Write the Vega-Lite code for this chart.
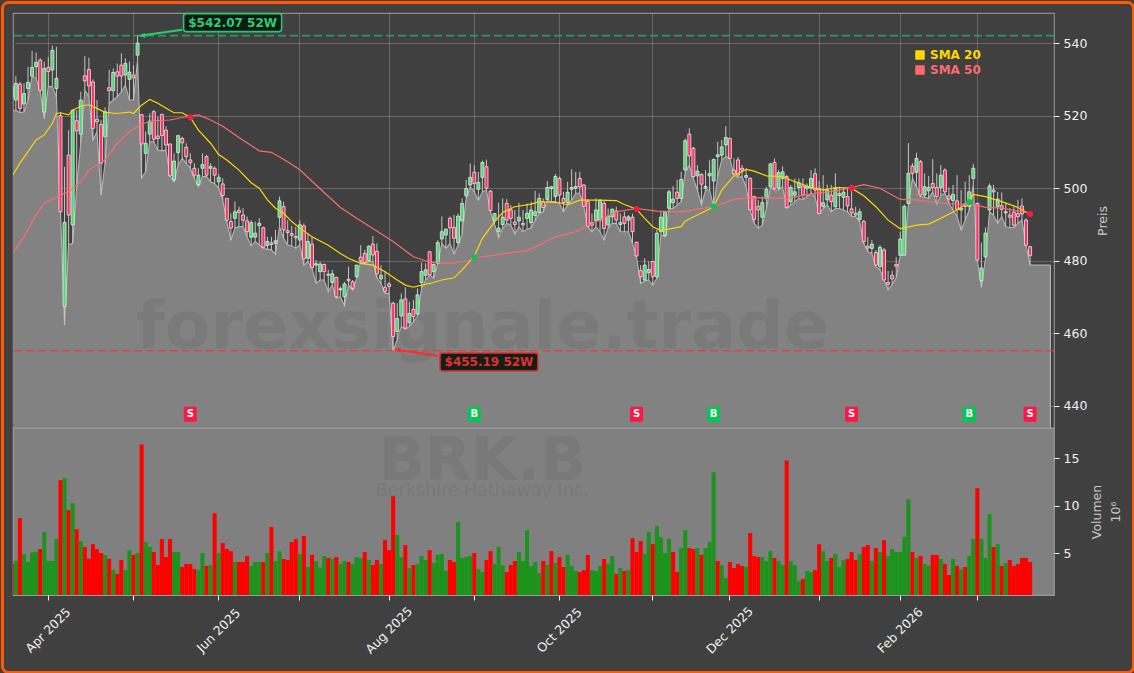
{"$schema":"https://vega.github.io/schema/vega-lite/v6.json","background":"#404040","padding":0,"spacing":0,"bounds":"flush","config":{"font":"DejaVu Sans","view":{"stroke":"#8c8c8c","strokeWidth":1.2},"concat":{"spacing":0}},
"datasets":{
"candles":[
{"date":"2025-03-19","open":528,"high":530,"low":521,"close":525,"volume":3.85,"volDir":"down"},
{"date":"2025-03-20","open":524.3,"high":530.9,"low":521.5,"close":528.9,"volume":4.16,"volDir":"up"},
{"date":"2025-03-21","open":528.7,"high":529.3,"low":520.8,"close":522,"volume":8.67,"volDir":"down"},
{"date":"2025-03-24","open":523.2,"high":528.9,"low":521,"close":526.1,"volume":4.9,"volDir":"up"},
{"date":"2025-03-25","open":527.5,"high":533.5,"low":524.3,"close":529.2,"volume":4.06,"volDir":"up"},
{"date":"2025-03-26","open":530.9,"high":537.9,"low":530.9,"close":533.3,"volume":5.07,"volDir":"up"},
{"date":"2025-03-27","open":533.5,"high":537.4,"low":530.3,"close":534.7,"volume":5.14,"volDir":"up"},
{"date":"2025-03-28","open":535.3,"high":535.8,"low":526.6,"close":527,"volume":5.42,"volDir":"down"},
{"date":"2025-03-31","open":521,"high":534.9,"low":519.2,"close":533,"volume":7.2,"volDir":"up"},
{"date":"2025-04-01","open":533.3,"high":536.2,"low":528,"close":532.2,"volume":4.16,"volDir":"up"},
{"date":"2025-04-02","open":532.6,"high":539.3,"low":528,"close":538,"volume":4.16,"volDir":"up"},
{"date":"2025-04-03","open":527.5,"high":539,"low":525.2,"close":530.3,"volume":6.47,"volDir":"up"},
{"date":"2025-04-04","open":520,"high":521,"low":493.5,"close":493.5,"volume":12.66,"volDir":"down"},
{"date":"2025-04-07","open":467.4,"high":505.9,"low":462.3,"close":490.6,"volume":12.87,"volDir":"up"},
{"date":"2025-04-08","open":509.1,"high":516,"low":484.4,"close":492.6,"volume":9.5,"volDir":"down"},
{"date":"2025-04-09","open":489.9,"high":521.7,"low":484.8,"close":521.5,"volume":10.24,"volDir":"up"},
{"date":"2025-04-10","open":518.6,"high":521.5,"low":500.4,"close":515.8,"volume":7.5,"volDir":"down"},
{"date":"2025-04-11","open":514.9,"high":526.6,"low":512.4,"close":524.3,"volume":6.26,"volDir":"up"},
{"date":"2025-04-14","open":531,"high":536.4,"low":527,"close":529.6,"volume":5.63,"volDir":"down"},
{"date":"2025-04-15","open":532.7,"high":536,"low":525.2,"close":528.2,"volume":4.4,"volDir":"down"},
{"date":"2025-04-16","open":529.3,"high":530,"low":513.3,"close":516.5,"volume":5.94,"volDir":"down"},
{"date":"2025-04-17","open":519,"high":524.3,"low":515.6,"close":518.3,"volume":5.42,"volDir":"down"},
{"date":"2025-04-21","open":517.6,"high":518.8,"low":498.1,"close":506.9,"volume":5,"volDir":"down"},
{"date":"2025-04-22","open":514.2,"high":522.3,"low":506.9,"close":521.1,"volume":4.8,"volDir":"up"},
{"date":"2025-04-23","open":527.7,"high":532.6,"low":523.4,"close":526.9,"volume":4.4,"volDir":"down"},
{"date":"2025-04-24","open":526.9,"high":533,"low":524.3,"close":531.9,"volume":3.2,"volDir":"up"},
{"date":"2025-04-25","open":532.1,"high":534.4,"low":525.2,"close":530.9,"volume":2.8,"volDir":"down"},
{"date":"2025-04-28","open":533.9,"high":537.2,"low":526.6,"close":530.9,"volume":4.27,"volDir":"down"},
{"date":"2025-04-29","open":531.2,"high":535.8,"low":528.4,"close":534.4,"volume":3.2,"volDir":"up"},
{"date":"2025-04-30","open":530,"high":534.9,"low":524.3,"close":532,"volume":5.3,"volDir":"up"},
{"date":"2025-05-01","open":531.2,"high":533.9,"low":524.3,"close":530.4,"volume":4.8,"volDir":"down"},
{"date":"2025-05-02","open":536.7,"high":542.07,"low":535.3,"close":540,"volume":5,"volDir":"up"},
{"date":"2025-05-05","open":520.3,"high":520.4,"low":502.9,"close":512.2,"volume":16.43,"volDir":"down"},
{"date":"2025-05-06","open":509.6,"high":515.6,"low":504.6,"close":512.4,"volume":6.15,"volDir":"up"},
{"date":"2025-05-07","open":514.9,"high":520.6,"low":512.8,"close":518.5,"volume":5.63,"volDir":"up"},
{"date":"2025-05-08","open":521.1,"high":521.5,"low":512.8,"close":513.5,"volume":5.1,"volDir":"down"},
{"date":"2025-05-09","open":514.4,"high":519.7,"low":510.5,"close":513.7,"volume":3.74,"volDir":"down"},
{"date":"2025-05-12","open":520.3,"high":520.6,"low":510.3,"close":514.5,"volume":6.47,"volDir":"down"},
{"date":"2025-05-13","open":516,"high":517.1,"low":510.5,"close":511.9,"volume":4.58,"volDir":"down"},
{"date":"2025-05-14","open":512.2,"high":512.3,"low":503.2,"close":503.4,"volume":6.47,"volDir":"down"},
{"date":"2025-05-15","open":502.3,"high":509.6,"low":501.8,"close":507.5,"volume":5.1,"volDir":"up"},
{"date":"2025-05-16","open":509.8,"high":514.7,"low":506.4,"close":514.5,"volume":5.1,"volDir":"up"},
{"date":"2025-05-19","open":513.7,"high":514.2,"low":508.2,"close":512.5,"volume":3.53,"volDir":"down"},
{"date":"2025-05-20","open":511.3,"high":512.4,"low":506.9,"close":508.7,"volume":3.85,"volDir":"down"},
{"date":"2025-05-21","open":507.8,"high":509.6,"low":505.5,"close":507,"volume":3.85,"volDir":"down"},
{"date":"2025-05-22","open":505.5,"high":506.9,"low":502.7,"close":503.6,"volume":3.32,"volDir":"down"},
{"date":"2025-05-23","open":501,"high":505.5,"low":500.4,"close":503.6,"volume":3.2,"volDir":"up"},
{"date":"2025-05-27","open":505.5,"high":509.6,"low":503.2,"close":506.5,"volume":5,"volDir":"up"},
{"date":"2025-05-28","open":508.7,"high":509.2,"low":503.2,"close":503.6,"volume":3.64,"volDir":"down"},
{"date":"2025-05-29","open":505.5,"high":506.9,"low":501.8,"close":506,"volume":3.74,"volDir":"up"},
{"date":"2025-05-30","open":505.5,"high":506,"low":501.3,"close":503.6,"volume":9.2,"volDir":"down"},
{"date":"2025-06-02","open":501.8,"high":503.9,"low":500,"close":503,"volume":5,"volDir":"up"},
{"date":"2025-06-03","open":501.2,"high":502.7,"low":496.8,"close":498,"volume":6.05,"volDir":"down"},
{"date":"2025-06-04","open":497.2,"high":497.2,"low":490.8,"close":491.2,"volume":5.42,"volDir":"down"},
{"date":"2025-06-05","open":490.8,"high":493.1,"low":485.7,"close":489,"volume":5.2,"volDir":"down"},
{"date":"2025-06-06","open":491.7,"high":496.3,"low":489,"close":493.5,"volume":4.06,"volDir":"up"},
{"date":"2025-06-09","open":493.9,"high":494.9,"low":489.4,"close":493.3,"volume":4.06,"volDir":"down"},
{"date":"2025-06-10","open":492.6,"high":494.5,"low":489.4,"close":491.2,"volume":4.06,"volDir":"down"},
{"date":"2025-06-11","open":491,"high":492.2,"low":486.6,"close":488,"volume":4.69,"volDir":"down"},
{"date":"2025-06-12","open":486.5,"high":491.2,"low":484.1,"close":490.5,"volume":3.64,"volDir":"up"},
{"date":"2025-06-13","open":486.5,"high":490.8,"low":485.3,"close":487.6,"volume":4.06,"volDir":"up"},
{"date":"2025-06-16","open":489.7,"high":491.7,"low":484.4,"close":490.3,"volume":4.06,"volDir":"up"},
{"date":"2025-06-17","open":489.1,"high":489.4,"low":483.4,"close":483.7,"volume":4.06,"volDir":"down"},
{"date":"2025-06-18","open":484.2,"high":486.6,"low":483.2,"close":485.3,"volume":5,"volDir":"up"},
{"date":"2025-06-20","open":484.9,"high":486.6,"low":483,"close":484.5,"volume":7.73,"volDir":"down"},
{"date":"2025-06-23","open":484.8,"high":488.5,"low":481.8,"close":485.5,"volume":4.16,"volDir":"up"},
{"date":"2025-06-24","open":492,"high":497.7,"low":489.4,"close":496.5,"volume":5.2,"volDir":"up"},
{"date":"2025-06-25","open":494.9,"high":496.3,"low":486.2,"close":488.5,"volume":4.37,"volDir":"down"},
{"date":"2025-06-26","open":488.3,"high":491.2,"low":484.4,"close":487.8,"volume":4.27,"volDir":"down"},
{"date":"2025-06-27","open":487.5,"high":489.6,"low":484.1,"close":487,"volume":6.15,"volDir":"down"},
{"date":"2025-06-30","open":486.7,"high":489.4,"low":483.4,"close":486.3,"volume":6.47,"volDir":"down"},
{"date":"2025-07-01","open":485.7,"high":491.2,"low":484.4,"close":489.9,"volume":4.9,"volDir":"up"},
{"date":"2025-07-02","open":489.6,"high":490.3,"low":478.8,"close":480.5,"volume":6.8,"volDir":"down"},
{"date":"2025-07-03","open":480.7,"high":487.6,"low":479.8,"close":485.3,"volume":3.53,"volDir":"up"},
{"date":"2025-07-07","open":484.6,"high":486.6,"low":477.9,"close":478.1,"volume":4.8,"volDir":"down"},
{"date":"2025-07-08","open":478.8,"high":480.2,"low":473.8,"close":479.2,"volume":4.16,"volDir":"up"},
{"date":"2025-07-09","open":477,"high":479.7,"low":474.7,"close":479.1,"volume":3.46,"volDir":"up"},
{"date":"2025-07-10","open":479,"high":479.2,"low":474.7,"close":477,"volume":4.69,"volDir":"up"},
{"date":"2025-07-11","open":476.3,"high":477.5,"low":471.5,"close":476,"volume":4.48,"volDir":"down"},
{"date":"2025-07-14","open":474,"high":477.5,"low":473.3,"close":476.4,"volume":4.37,"volDir":"up"},
{"date":"2025-07-15","open":475.4,"high":475.6,"low":469.7,"close":470.1,"volume":4.58,"volDir":"down"},
{"date":"2025-07-16","open":472,"high":472.9,"low":470.1,"close":472.3,"volume":3.85,"volDir":"up"},
{"date":"2025-07-17","open":470.1,"high":474.2,"low":467.6,"close":473.6,"volume":4.16,"volDir":"up"},
{"date":"2025-07-18","open":474.9,"high":478.4,"low":473.3,"close":474.5,"volume":4.06,"volDir":"down"},
{"date":"2025-07-21","open":474.2,"high":474.7,"low":471.9,"close":472.4,"volume":3.85,"volDir":"up"},
{"date":"2025-07-22","open":475.6,"high":478.8,"low":475.2,"close":478.8,"volume":4.58,"volDir":"up"},
{"date":"2025-07-23","open":481,"high":484.3,"low":479.8,"close":480,"volume":4.48,"volDir":"up"},
{"date":"2025-07-24","open":482,"high":483,"low":479.3,"close":479.5,"volume":5.1,"volDir":"down"},
{"date":"2025-07-25","open":480,"high":484.3,"low":479.8,"close":484,"volume":4.27,"volDir":"up"},
{"date":"2025-07-28","open":484.6,"high":486.8,"low":479.8,"close":481.6,"volume":3.74,"volDir":"down"},
{"date":"2025-07-29","open":482.6,"high":484.8,"low":475.2,"close":476.4,"volume":4.27,"volDir":"down"},
{"date":"2025-07-30","open":475,"high":478.8,"low":473.8,"close":476,"volume":3.85,"volDir":"up"},
{"date":"2025-07-31","open":472.6,"high":477,"low":471,"close":471.6,"volume":6.36,"volDir":"down"},
{"date":"2025-08-01","open":473.6,"high":474.2,"low":471,"close":472.9,"volume":5.3,"volDir":"down"},
{"date":"2025-08-04","open":468.3,"high":468.7,"low":455.19,"close":459.1,"volume":10.98,"volDir":"down"},
{"date":"2025-08-05","open":460.5,"high":468.3,"low":458.2,"close":464.1,"volume":6.9,"volDir":"up"},
{"date":"2025-08-06","open":464.8,"high":471,"low":461.9,"close":469.2,"volume":4.58,"volDir":"up"},
{"date":"2025-08-07","open":469.5,"high":472.7,"low":461.1,"close":461.4,"volume":5.84,"volDir":"down"},
{"date":"2025-08-08","open":462.9,"high":468.7,"low":461.9,"close":465.5,"volume":3.43,"volDir":"up"},
{"date":"2025-08-11","open":466.6,"high":469.2,"low":463.2,"close":464.6,"volume":3.74,"volDir":"down"},
{"date":"2025-08-12","open":465.3,"high":472.4,"low":464.8,"close":470.6,"volume":3.85,"volDir":"up"},
{"date":"2025-08-13","open":474,"high":479.5,"low":472.4,"close":477,"volume":4.69,"volDir":"up"},
{"date":"2025-08-14","open":476,"high":479.3,"low":474.7,"close":477.5,"volume":4.27,"volDir":"up"},
{"date":"2025-08-15","open":482.5,"high":482.5,"low":476.1,"close":476.1,"volume":5.3,"volDir":"down"},
{"date":"2025-08-18","open":477,"high":479.3,"low":475.2,"close":479,"volume":3.95,"volDir":"up"},
{"date":"2025-08-19","open":479.3,"high":485.7,"low":479.3,"close":485,"volume":4.8,"volDir":"up"},
{"date":"2025-08-20","open":486,"high":492.2,"low":484.8,"close":488,"volume":4.9,"volDir":"up"},
{"date":"2025-08-21","open":487.1,"high":488.9,"low":483.4,"close":488.7,"volume":3.1,"volDir":"up"},
{"date":"2025-08-22","open":491.7,"high":492.2,"low":484.8,"close":489.1,"volume":4.27,"volDir":"down"},
{"date":"2025-08-25","open":489.2,"high":492.6,"low":481.9,"close":486.2,"volume":4.06,"volDir":"down"},
{"date":"2025-08-26","open":485,"high":493,"low":484.3,"close":492.3,"volume":8.25,"volDir":"up"},
{"date":"2025-08-27","open":491,"high":497.2,"low":487.4,"close":495.8,"volume":4.48,"volDir":"up"},
{"date":"2025-08-28","open":497.9,"high":502.3,"low":497.2,"close":499.9,"volume":4.58,"volDir":"up"},
{"date":"2025-08-29","open":500.9,"high":506.8,"low":500.4,"close":503,"volume":4.69,"volDir":"up"},
{"date":"2025-09-02","open":504.4,"high":506.4,"low":499,"close":501.3,"volume":5,"volDir":"down"},
{"date":"2025-09-03","open":499.7,"high":504.5,"low":496.7,"close":501.6,"volume":3.32,"volDir":"up"},
{"date":"2025-09-04","open":503,"high":507.6,"low":499,"close":507.1,"volume":3,"volDir":"up"},
{"date":"2025-09-05","open":505.9,"high":507.9,"low":499.5,"close":500,"volume":4.27,"volDir":"down"},
{"date":"2025-09-08","open":499.2,"high":499.5,"low":493.5,"close":493.8,"volume":5.2,"volDir":"down"},
{"date":"2025-09-09","open":491,"high":493,"low":490,"close":493,"volume":3.85,"volDir":"up"},
{"date":"2025-09-10","open":488,"high":496,"low":486.4,"close":489,"volume":5.63,"volDir":"up"},
{"date":"2025-09-11","open":490,"high":497.2,"low":488.9,"close":492,"volume":3.74,"volDir":"up"},
{"date":"2025-09-12","open":495.8,"high":497,"low":490.3,"close":491.2,"volume":3,"volDir":"down"},
{"date":"2025-09-15","open":494,"high":495.4,"low":489.9,"close":491.7,"volume":3.74,"volDir":"down"},
{"date":"2025-09-16","open":490.7,"high":494,"low":487.4,"close":490,"volume":4.16,"volDir":"down"},
{"date":"2025-09-17","open":491,"high":496,"low":489.4,"close":492,"volume":5.1,"volDir":"up"},
{"date":"2025-09-18","open":490.3,"high":494,"low":488,"close":489.9,"volume":4.16,"volDir":"up"},
{"date":"2025-09-19","open":491.7,"high":495.8,"low":488.7,"close":493.1,"volume":7.4,"volDir":"up"},
{"date":"2025-09-22","open":490.5,"high":496.3,"low":489,"close":494,"volume":3.64,"volDir":"up"},
{"date":"2025-09-23","open":492.5,"high":499.3,"low":491.2,"close":493.5,"volume":4.06,"volDir":"up"},
{"date":"2025-09-24","open":493.3,"high":498.6,"low":493.1,"close":497.2,"volume":2.9,"volDir":"up"},
{"date":"2025-09-25","open":496.3,"high":497.2,"low":493.5,"close":494.7,"volume":4.16,"volDir":"down"},
{"date":"2025-09-26","open":496.9,"high":502,"low":496.6,"close":500.2,"volume":3.74,"volDir":"up"},
{"date":"2025-09-29","open":499.9,"high":500.5,"low":496.3,"close":500.4,"volume":5.2,"volDir":"down"},
{"date":"2025-09-30","open":497.7,"high":503.9,"low":496.3,"close":503.2,"volume":3.95,"volDir":"up"},
{"date":"2025-10-01","open":502.7,"high":503.2,"low":495.8,"close":498.1,"volume":4.58,"volDir":"down"},
{"date":"2025-10-02","open":497.2,"high":499,"low":493.5,"close":496,"volume":3.53,"volDir":"down"},
{"date":"2025-10-03","open":496,"high":501.8,"low":495.4,"close":498.9,"volume":4.8,"volDir":"up"},
{"date":"2025-10-06","open":499.7,"high":505.2,"low":496.7,"close":500.2,"volume":3.64,"volDir":"up"},
{"date":"2025-10-07","open":500,"high":504.5,"low":498.6,"close":500.5,"volume":3.1,"volDir":"up"},
{"date":"2025-10-08","open":502.7,"high":504.5,"low":498.6,"close":500.4,"volume":3,"volDir":"down"},
{"date":"2025-10-09","open":500.9,"high":501,"low":494.9,"close":495,"volume":3.2,"volDir":"down"},
{"date":"2025-10-10","open":496.3,"high":497,"low":489.4,"close":489.4,"volume":4.8,"volDir":"down"},
{"date":"2025-10-13","open":490.5,"high":493,"low":488,"close":489.8,"volume":3.2,"volDir":"up"},
{"date":"2025-10-14","open":491,"high":497.2,"low":489.4,"close":494,"volume":3.1,"volDir":"up"},
{"date":"2025-10-15","open":491.2,"high":497,"low":488,"close":496.7,"volume":3.64,"volDir":"up"},
{"date":"2025-10-16","open":495.8,"high":496.7,"low":485.7,"close":488.9,"volume":4.37,"volDir":"down"},
{"date":"2025-10-17","open":489.9,"high":494.4,"low":489,"close":492.3,"volume":3.85,"volDir":"up"},
{"date":"2025-10-20","open":492.1,"high":494.4,"low":490.3,"close":494.2,"volume":4.69,"volDir":"up"},
{"date":"2025-10-21","open":493.7,"high":494.9,"low":490.3,"close":491.2,"volume":2.8,"volDir":"down"},
{"date":"2025-10-22","open":490,"high":493,"low":488,"close":490.5,"volume":3.43,"volDir":"up"},
{"date":"2025-10-23","open":492.1,"high":493.5,"low":488,"close":490.3,"volume":3.1,"volDir":"down"},
{"date":"2025-10-24","open":491.2,"high":492.6,"low":488,"close":492.1,"volume":3.2,"volDir":"up"},
{"date":"2025-10-27","open":492,"high":493,"low":484.8,"close":488,"volume":6.57,"volDir":"down"},
{"date":"2025-10-28","open":485.1,"high":485.2,"low":481.1,"close":481.3,"volume":5.1,"volDir":"down"},
{"date":"2025-10-29","open":477.3,"high":478.8,"low":473.8,"close":475.6,"volume":6.26,"volDir":"down"},
{"date":"2025-10-30","open":474.7,"high":480.7,"low":474.5,"close":478.8,"volume":4.9,"volDir":"up"},
{"date":"2025-10-31","open":476.7,"high":479.8,"low":474.7,"close":477.6,"volume":7.2,"volDir":"up"},
{"date":"2025-11-03","open":479.8,"high":480,"low":473.3,"close":475.6,"volume":5.94,"volDir":"down"},
{"date":"2025-11-04","open":475.6,"high":488.5,"low":475.2,"close":487.6,"volume":7.83,"volDir":"up"},
{"date":"2025-11-05","open":488,"high":493.5,"low":487.1,"close":492,"volume":6.68,"volDir":"up"},
{"date":"2025-11-06","open":487,"high":493.5,"low":486.6,"close":493.5,"volume":5,"volDir":"up"},
{"date":"2025-11-07","open":494.5,"high":499.5,"low":494.4,"close":499,"volume":6.47,"volDir":"up"},
{"date":"2025-11-10","open":496,"high":500.6,"low":494.4,"close":497,"volume":5.1,"volDir":"down"},
{"date":"2025-11-11","open":498.9,"high":502.3,"low":495.4,"close":497.2,"volume":3,"volDir":"down"},
{"date":"2025-11-12","open":497.2,"high":504.5,"low":496.3,"close":502.4,"volume":5.52,"volDir":"up"},
{"date":"2025-11-13","open":505,"high":513.7,"low":504.5,"close":513.1,"volume":7.4,"volDir":"up"},
{"date":"2025-11-14","open":514.9,"high":516.5,"low":506.4,"close":508.9,"volume":5.52,"volDir":"down"},
{"date":"2025-11-17","open":511,"high":511.4,"low":502.7,"close":503.2,"volume":5.42,"volDir":"down"},
{"date":"2025-11-18","open":503.4,"high":506.4,"low":499.5,"close":504.7,"volume":5.52,"volDir":"up"},
{"date":"2025-11-19","open":503.8,"high":504.1,"low":495.4,"close":501.1,"volume":4.8,"volDir":"down"},
{"date":"2025-11-20","open":500,"high":505,"low":499.5,"close":500.5,"volume":5.52,"volDir":"up"},
{"date":"2025-11-21","open":503.4,"high":507.7,"low":499.5,"close":504.1,"volume":6.15,"volDir":"up"},
{"date":"2025-11-24","open":502,"high":508.2,"low":494.9,"close":507.9,"volume":13.5,"volDir":"up"},
{"date":"2025-11-25","open":508.7,"high":512.8,"low":503.2,"close":509.2,"volume":4.16,"volDir":"down"},
{"date":"2025-11-26","open":509.1,"high":513.3,"low":507.8,"close":511.4,"volume":3.74,"volDir":"up"},
{"date":"2025-11-28","open":511.9,"high":517.1,"low":508.7,"close":514,"volume":2.37,"volDir":"up"},
{"date":"2025-12-01","open":513.7,"high":514,"low":508.2,"close":508.2,"volume":4.06,"volDir":"down"},
{"date":"2025-12-02","open":505,"high":508.2,"low":503.6,"close":504,"volume":3.43,"volDir":"down"},
{"date":"2025-12-03","open":507.8,"high":508.6,"low":503,"close":503.6,"volume":3.85,"volDir":"down"},
{"date":"2025-12-04","open":505.5,"high":506.4,"low":503.2,"close":505,"volume":3.64,"volDir":"down"},
{"date":"2025-12-05","open":503,"high":505.5,"low":500.4,"close":503.5,"volume":3.53,"volDir":"up"},
{"date":"2025-12-08","open":502.7,"high":503,"low":494,"close":494,"volume":7.1,"volDir":"down"},
{"date":"2025-12-09","open":497.7,"high":497.9,"low":490.3,"close":491.4,"volume":4.69,"volDir":"down"},
{"date":"2025-12-10","open":495,"high":496.7,"low":489,"close":494,"volume":4.58,"volDir":"down"},
{"date":"2025-12-11","open":492,"high":497.7,"low":489.8,"close":496,"volume":4.58,"volDir":"up"},
{"date":"2025-12-12","open":497.2,"high":500.4,"low":494.4,"close":499.7,"volume":4.16,"volDir":"up"},
{"date":"2025-12-15","open":500.4,"high":507,"low":500.2,"close":506.7,"volume":5.2,"volDir":"up"},
{"date":"2025-12-16","open":507.1,"high":508.2,"low":499.5,"close":500,"volume":4.48,"volDir":"down"},
{"date":"2025-12-17","open":500,"high":505,"low":499.5,"close":504.3,"volume":4.16,"volDir":"up"},
{"date":"2025-12-18","open":502.7,"high":506,"low":500.4,"close":504.5,"volume":3.74,"volDir":"up"},
{"date":"2025-12-19","open":503.2,"high":503.6,"low":494.4,"close":494.7,"volume":14.75,"volDir":"down"},
{"date":"2025-12-22","open":496.3,"high":500.9,"low":495.4,"close":500.2,"volume":4.16,"volDir":"up"},
{"date":"2025-12-23","open":498.1,"high":502.7,"low":496.3,"close":499,"volume":3.74,"volDir":"up"},
{"date":"2025-12-24","open":500.2,"high":502.7,"low":497.2,"close":501.5,"volume":2.06,"volDir":"up"},
{"date":"2025-12-26","open":500.6,"high":502.7,"low":496.9,"close":498.1,"volume":2.27,"volDir":"down"},
{"date":"2025-12-29","open":500,"high":501.3,"low":497.7,"close":500.5,"volume":3.1,"volDir":"up"},
{"date":"2025-12-30","open":500,"high":505,"low":498.6,"close":502.7,"volume":3,"volDir":"up"},
{"date":"2025-12-31","open":504,"high":505.5,"low":497.5,"close":499.5,"volume":3.2,"volDir":"down"},
{"date":"2026-01-02","open":500,"high":502,"low":493,"close":493,"volume":5.94,"volDir":"down"},
{"date":"2026-01-05","open":495,"high":503.6,"low":494.4,"close":496,"volume":5.2,"volDir":"up"},
{"date":"2026-01-06","open":496.8,"high":501,"low":495.4,"close":499.5,"volume":4.16,"volDir":"up"},
{"date":"2026-01-07","open":498.1,"high":500.9,"low":493.5,"close":496.3,"volume":4.48,"volDir":"down"},
{"date":"2026-01-08","open":494.9,"high":504.1,"low":494.4,"close":499.9,"volume":4.9,"volDir":"up"},
{"date":"2026-01-09","open":498,"high":500.4,"low":494.4,"close":498.5,"volume":3.53,"volDir":"up"},
{"date":"2026-01-12","open":497.5,"high":500.2,"low":494,"close":498.9,"volume":4.27,"volDir":"up"},
{"date":"2026-01-13","open":497.7,"high":500,"low":493.5,"close":495.1,"volume":4.37,"volDir":"down"},
{"date":"2026-01-14","open":494.3,"high":500.9,"low":492.2,"close":493.2,"volume":5.1,"volDir":"down"},
{"date":"2026-01-15","open":493.1,"high":494.9,"low":492.2,"close":492.6,"volume":4.27,"volDir":"down"},
{"date":"2026-01-16","open":491.4,"high":494.4,"low":490.8,"close":493.5,"volume":4.9,"volDir":"up"},
{"date":"2026-01-20","open":490.9,"high":491.2,"low":484.8,"close":485.3,"volume":5.63,"volDir":"down"},
{"date":"2026-01-21","open":484,"high":486.6,"low":482.5,"close":483.5,"volume":5.84,"volDir":"down"},
{"date":"2026-01-22","open":483.4,"high":485.7,"low":482,"close":484.6,"volume":4.16,"volDir":"up"},
{"date":"2026-01-23","open":482.3,"high":483,"low":478.4,"close":478.8,"volume":5.52,"volDir":"down"},
{"date":"2026-01-26","open":478.4,"high":484.3,"low":477.5,"close":483.7,"volume":5.1,"volDir":"up"},
{"date":"2026-01-27","open":483,"high":483.5,"low":474.7,"close":474.7,"volume":6.36,"volDir":"down"},
{"date":"2026-01-28","open":474,"high":477.2,"low":472,"close":473.5,"volume":4.69,"volDir":"up"},
{"date":"2026-01-29","open":476,"high":477.3,"low":473.4,"close":475,"volume":5.42,"volDir":"up"},
{"date":"2026-01-30","open":479,"high":481,"low":475.4,"close":478.5,"volume":5.1,"volDir":"up"},
{"date":"2026-02-02","open":481.5,"high":488,"low":481.3,"close":486,"volume":5.1,"volDir":"up"},
{"date":"2026-02-03","open":481.6,"high":495.5,"low":481.6,"close":495,"volume":6.68,"volDir":"up"},
{"date":"2026-02-04","open":495.8,"high":512.4,"low":495.6,"close":504.1,"volume":10.66,"volDir":"up"},
{"date":"2026-02-05","open":506.1,"high":506.9,"low":502.7,"close":504.1,"volume":5.1,"volDir":"down"},
{"date":"2026-02-06","open":504.4,"high":509.8,"low":500.4,"close":508.2,"volume":4.48,"volDir":"up"},
{"date":"2026-02-09","open":507.3,"high":507.8,"low":497.7,"close":498.1,"volume":4.69,"volDir":"down"},
{"date":"2026-02-10","open":498.1,"high":504.1,"low":497.5,"close":500.4,"volume":3.85,"volDir":"up"},
{"date":"2026-02-11","open":499.3,"high":503.4,"low":497.2,"close":500.2,"volume":3.64,"volDir":"up"},
{"date":"2026-02-12","open":501.3,"high":508,"low":499,"close":500.2,"volume":4.8,"volDir":"down"},
{"date":"2026-02-13","open":500.2,"high":504.1,"low":495.6,"close":497.7,"volume":4.8,"volDir":"down"},
{"date":"2026-02-17","open":500.2,"high":506.4,"low":498.1,"close":503.6,"volume":4.37,"volDir":"up"},
{"date":"2026-02-18","open":505,"high":505.5,"low":498.6,"close":499,"volume":3.85,"volDir":"down"},
{"date":"2026-02-19","open":497.9,"high":500.2,"low":495.8,"close":497,"volume":2.69,"volDir":"down"},
{"date":"2026-02-20","open":496.6,"high":500.9,"low":494,"close":498.3,"volume":4.37,"volDir":"up"},
{"date":"2026-02-23","open":496.5,"high":503.6,"low":492.2,"close":494.2,"volume":3.64,"volDir":"down"},
{"date":"2026-02-24","open":494,"high":499.5,"low":488.5,"close":494.5,"volume":3.32,"volDir":"up"},
{"date":"2026-02-25","open":495.5,"high":501.8,"low":491.2,"close":495,"volume":3.53,"volDir":"down"},
{"date":"2026-02-26","open":495,"high":503.6,"low":494,"close":499,"volume":4.69,"volDir":"up"},
{"date":"2026-02-27","open":502.7,"high":506.7,"low":500.9,"close":505.5,"volume":6.47,"volDir":"up"},
{"date":"2026-03-02","open":495.8,"high":496,"low":480.2,"close":480.2,"volume":11.82,"volDir":"down"},
{"date":"2026-03-03","open":474.5,"high":485,"low":472.7,"close":478,"volume":6.47,"volDir":"up"},
{"date":"2026-03-04","open":481.1,"high":489.2,"low":480.7,"close":487.6,"volume":4.48,"volDir":"up"},
{"date":"2026-03-05","open":494,"high":501.3,"low":493.5,"close":500.6,"volume":9.09,"volDir":"up"},
{"date":"2026-03-06","open":499.5,"high":500.9,"low":492.6,"close":499,"volume":5.63,"volDir":"down"},
{"date":"2026-03-09","open":495,"high":499,"low":490.3,"close":497,"volume":5.94,"volDir":"up"},
{"date":"2026-03-10","open":495.2,"high":498.8,"low":492.2,"close":494.2,"volume":3.64,"volDir":"down"},
{"date":"2026-03-11","open":493.2,"high":495.8,"low":489.4,"close":493.5,"volume":3.95,"volDir":"up"},
{"date":"2026-03-12","open":492.6,"high":494.5,"low":489.1,"close":492,"volume":4.27,"volDir":"down"},
{"date":"2026-03-13","open":493.4,"high":494.9,"low":489.2,"close":489.8,"volume":3.64,"volDir":"down"},
{"date":"2026-03-16","open":493,"high":496.8,"low":490.3,"close":492.2,"volume":3.85,"volDir":"down"},
{"date":"2026-03-17","open":495.1,"high":497.2,"low":491.2,"close":492.9,"volume":4.48,"volDir":"down"},
{"date":"2026-03-18","open":491.2,"high":491.7,"low":484.1,"close":484.3,"volume":4.48,"volDir":"down"},
{"date":"2026-03-19","open":483.9,"high":484.1,"low":478.85,"close":481.4,"volume":4.06,"volDir":"down"},
{"date":"2026-03-20","low":478.85},{"date":"2026-03-23","low":478.85},{"date":"2026-03-24","low":478.85},{"date":"2026-03-25","low":478.85},{"date":"2026-03-26","low":478.85}
],
"sma":[
{"date":"2025-03-19","series":"SMA 20","value":503.2},{"date":"2025-03-21","series":"SMA 20","value":506.9},{"date":"2025-03-25","series":"SMA 20","value":510.1},{"date":"2025-03-27","series":"SMA 20","value":513.3},{"date":"2025-03-31","series":"SMA 20","value":514.7},{"date":"2025-04-02","series":"SMA 20","value":517.9},{"date":"2025-04-03","series":"SMA 20","value":520.6},{"date":"2025-04-04","series":"SMA 20","value":520.8},{"date":"2025-04-08","series":"SMA 20","value":520.2},{"date":"2025-04-09","series":"SMA 20","value":521.5},{"date":"2025-04-11","series":"SMA 20","value":522.6},{"date":"2025-04-15","series":"SMA 20","value":523},{"date":"2025-04-17","series":"SMA 20","value":522},{"date":"2025-04-22","series":"SMA 20","value":520.9},{"date":"2025-04-25","series":"SMA 20","value":520.6},{"date":"2025-04-30","series":"SMA 20","value":521},{"date":"2025-05-01","series":"SMA 20","value":520.6},{"date":"2025-05-05","series":"SMA 20","value":522.9},{"date":"2025-05-07","series":"SMA 20","value":524.5},{"date":"2025-05-09","series":"SMA 20","value":523.4},{"date":"2025-05-14","series":"SMA 20","value":521.4},{"date":"2025-05-15","series":"SMA 20","value":520.8},{"date":"2025-05-19","series":"SMA 20","value":520.8},{"date":"2025-05-21","series":"SMA 20","value":519.5},{"date":"2025-05-23","series":"SMA 20","value":516},{"date":"2025-05-29","series":"SMA 20","value":512.4},{"date":"2025-06-02","series":"SMA 20","value":509.3},{"date":"2025-06-04","series":"SMA 20","value":507.8},{"date":"2025-06-09","series":"SMA 20","value":505},{"date":"2025-06-12","series":"SMA 20","value":501.5},{"date":"2025-06-16","series":"SMA 20","value":500},{"date":"2025-06-18","series":"SMA 20","value":496.8},{"date":"2025-06-23","series":"SMA 20","value":494.5},{"date":"2025-06-25","series":"SMA 20","value":493.1},{"date":"2025-06-27","series":"SMA 20","value":490.8},{"date":"2025-07-01","series":"SMA 20","value":489},{"date":"2025-07-07","series":"SMA 20","value":486.6},{"date":"2025-07-11","series":"SMA 20","value":484.3},{"date":"2025-07-16","series":"SMA 20","value":482},{"date":"2025-07-18","series":"SMA 20","value":480.7},{"date":"2025-07-23","series":"SMA 20","value":479.3},{"date":"2025-07-28","series":"SMA 20","value":478.8},{"date":"2025-07-31","series":"SMA 20","value":477},{"date":"2025-08-05","series":"SMA 20","value":474.7},{"date":"2025-08-07","series":"SMA 20","value":473.3},{"date":"2025-08-11","series":"SMA 20","value":472.7},{"date":"2025-08-13","series":"SMA 20","value":473.3},{"date":"2025-08-18","series":"SMA 20","value":474},{"date":"2025-08-20","series":"SMA 20","value":474.7},{"date":"2025-08-25","series":"SMA 20","value":475.3},{"date":"2025-08-27","series":"SMA 20","value":477.5},{"date":"2025-09-02","series":"SMA 20","value":481.3},{"date":"2025-09-04","series":"SMA 20","value":486.2},{"date":"2025-09-09","series":"SMA 20","value":490.8},{"date":"2025-09-11","series":"SMA 20","value":493.3},{"date":"2025-09-16","series":"SMA 20","value":494.9},{"date":"2025-09-22","series":"SMA 20","value":495.6},{"date":"2025-09-24","series":"SMA 20","value":496.3},{"date":"2025-10-01","series":"SMA 20","value":496},{"date":"2025-10-03","series":"SMA 20","value":495.4},{"date":"2025-10-08","series":"SMA 20","value":496.7},{"date":"2025-10-15","series":"SMA 20","value":496.7},{"date":"2025-10-21","series":"SMA 20","value":496.6},{"date":"2025-10-23","series":"SMA 20","value":495.5},{"date":"2025-10-28","series":"SMA 20","value":494.2},{"date":"2025-10-30","series":"SMA 20","value":491.7},{"date":"2025-11-03","series":"SMA 20","value":489.4},{"date":"2025-11-05","series":"SMA 20","value":488.3},{"date":"2025-11-12","series":"SMA 20","value":489.4},{"date":"2025-11-13","series":"SMA 20","value":491},{"date":"2025-11-18","series":"SMA 20","value":492.6},{"date":"2025-11-24","series":"SMA 20","value":494.9},{"date":"2025-11-26","series":"SMA 20","value":499.5},{"date":"2025-12-02","series":"SMA 20","value":503.4},{"date":"2025-12-05","series":"SMA 20","value":505.2},{"date":"2025-12-09","series":"SMA 20","value":504.7},{"date":"2025-12-12","series":"SMA 20","value":503.4},{"date":"2025-12-18","series":"SMA 20","value":503.2},{"date":"2025-12-23","series":"SMA 20","value":501.8},{"date":"2025-12-30","series":"SMA 20","value":500.2},{"date":"2026-01-05","series":"SMA 20","value":499.5},{"date":"2026-01-08","series":"SMA 20","value":500.2},{"date":"2026-01-14","series":"SMA 20","value":500},{"date":"2026-01-20","series":"SMA 20","value":497.9},{"date":"2026-01-23","series":"SMA 20","value":494.9},{"date":"2026-01-28","series":"SMA 20","value":491.2},{"date":"2026-02-02","series":"SMA 20","value":488.8},{"date":"2026-02-06","series":"SMA 20","value":489.8},{"date":"2026-02-11","series":"SMA 20","value":490.1},{"date":"2026-02-17","series":"SMA 20","value":491.7},{"date":"2026-02-23","series":"SMA 20","value":494},{"date":"2026-02-26","series":"SMA 20","value":496.3},{"date":"2026-02-27","series":"SMA 20","value":498.3},{"date":"2026-03-04","series":"SMA 20","value":497.7},{"date":"2026-03-10","series":"SMA 20","value":496.3},{"date":"2026-03-16","series":"SMA 20","value":494.7},{"date":"2026-03-19","series":"SMA 20","value":492.8},
{"date":"2025-03-19","series":"SMA 50","value":481.6},{"date":"2025-03-24","series":"SMA 50","value":486.6},{"date":"2025-03-27","series":"SMA 50","value":492.6},{"date":"2025-03-31","series":"SMA 50","value":495.8},{"date":"2025-04-04","series":"SMA 50","value":498.1},{"date":"2025-04-08","series":"SMA 50","value":499},{"date":"2025-04-11","series":"SMA 50","value":501.8},{"date":"2025-04-15","series":"SMA 50","value":505},{"date":"2025-04-22","series":"SMA 50","value":507.8},{"date":"2025-04-25","series":"SMA 50","value":512.4},{"date":"2025-04-30","series":"SMA 50","value":515.6},{"date":"2025-05-05","series":"SMA 50","value":517.7},{"date":"2025-05-08","series":"SMA 50","value":518.6},{"date":"2025-05-14","series":"SMA 50","value":518.8},{"date":"2025-05-19","series":"SMA 50","value":519.5},{"date":"2025-05-23","series":"SMA 50","value":520.2},{"date":"2025-05-29","series":"SMA 50","value":518.8},{"date":"2025-06-03","series":"SMA 50","value":517.1},{"date":"2025-06-09","series":"SMA 50","value":514},{"date":"2025-06-16","series":"SMA 50","value":510.3},{"date":"2025-06-20","series":"SMA 50","value":509.9},{"date":"2025-06-26","series":"SMA 50","value":507.3},{"date":"2025-07-01","series":"SMA 50","value":505.1},{"date":"2025-07-08","series":"SMA 50","value":500.9},{"date":"2025-07-16","series":"SMA 50","value":494.7},{"date":"2025-07-22","series":"SMA 50","value":491.7},{"date":"2025-07-28","series":"SMA 50","value":488.9},{"date":"2025-08-04","series":"SMA 50","value":485.3},{"date":"2025-08-11","series":"SMA 50","value":481.1},{"date":"2025-08-15","series":"SMA 50","value":479.6},{"date":"2025-08-22","series":"SMA 50","value":479.3},{"date":"2025-08-28","series":"SMA 50","value":480},{"date":"2025-09-03","series":"SMA 50","value":480.9},{"date":"2025-09-11","series":"SMA 50","value":481.9},{"date":"2025-09-19","series":"SMA 50","value":482.8},{"date":"2025-09-24","series":"SMA 50","value":484.3},{"date":"2025-09-30","series":"SMA 50","value":486.6},{"date":"2025-10-07","series":"SMA 50","value":488},{"date":"2025-10-15","series":"SMA 50","value":491.3},{"date":"2025-10-21","series":"SMA 50","value":493.5},{"date":"2025-10-28","series":"SMA 50","value":494.4},{"date":"2025-11-04","series":"SMA 50","value":493.7},{"date":"2025-11-12","series":"SMA 50","value":493.5},{"date":"2025-11-24","series":"SMA 50","value":494.9},{"date":"2025-12-02","series":"SMA 50","value":496.9},{"date":"2025-12-08","series":"SMA 50","value":497.4},{"date":"2025-12-19","series":"SMA 50","value":497.2},{"date":"2025-12-31","series":"SMA 50","value":498.6},{"date":"2026-01-08","series":"SMA 50","value":499.2},{"date":"2026-01-14","series":"SMA 50","value":500.2},{"date":"2026-01-20","series":"SMA 50","value":501},{"date":"2026-01-26","series":"SMA 50","value":500},{"date":"2026-02-02","series":"SMA 50","value":496.9},{"date":"2026-02-06","series":"SMA 50","value":496.8},{"date":"2026-02-13","series":"SMA 50","value":496},{"date":"2026-02-23","series":"SMA 50","value":495.6},{"date":"2026-02-27","series":"SMA 50","value":495.6},{"date":"2026-03-04","series":"SMA 50","value":494.7},{"date":"2026-03-10","series":"SMA 50","value":494.5},{"date":"2026-03-19","series":"SMA 50","value":493.1}
],
"signals":[
{"date":"2025-05-21","signal":"S","price":519.6},{"date":"2025-09-02","signal":"B","price":481},{"date":"2025-10-28","signal":"S","price":494.3},{"date":"2025-11-24","signal":"B","price":495},{"date":"2026-01-14","signal":"S","price":500},{"date":"2026-02-26","signal":"B","price":496.2},{"date":"2026-03-19","signal":"S","price":492.9}
],
"arrows":[
{"date":"2025-05-05","kind":"high","price":542.07},{"date":"2025-05-19","kind":"high","price":543.7},
{"date":"2025-08-05","kind":"low","price":455.4},{"date":"2025-08-19","kind":"low","price":453.8}
]
},
"vconcat":[
{"width":1041,"height":415,"layer":[
{"data":{"values":[{}]},"mark":{"type":"rect","fill":"#404040","fillOpacity":0,"stroke":"#ff5a00","strokeWidth":3,"cornerRadius":6,"clip":false},"encoding":{"x":{"value":-10.5},"x2":{"value":1120.5},"y":{"value":-10.5},"y2":{"value":659.5}}},
{"data":{"name":"candles"},"mark":{"type":"area","color":"#828282","clip":true},"encoding":{"x":{"field":"date","type":"ordinal","sort":"ascending","title":null,"scale":{"type":"band","paddingInner":0,"paddingOuter":0,"range":[-3.23,1039.4]},"axis":{"values":["2025-04-01","2025-05-01","2025-06-02","2025-07-01","2025-08-01","2025-09-02","2025-10-01","2025-11-03","2025-12-01","2026-01-02","2026-02-02","2026-03-02"],"labels":false,"ticks":false,"domain":false,"grid":true,"gridColor":"#ffffff","gridOpacity":0.2,"gridWidth":1}},"y":{"field":"low","type":"quantitative","scale":{"domain":[433.9,548.3],"zero":false,"nice":false},"axis":{"orient":"right","values":[440,460,480,500,520,540],"grid":true,"gridColor":"#ffffff","gridOpacity":0.2,"domain":false,"tickColor":"#f0f0f0","tickSize":5,"labelColor":"#f0f0f0","labelFontSize":12.5,"labelPadding":4,"title":"Preis","titleAngle":270,"titleColor":"#c8c8c8","titleFontSize":12.5,"titleFontWeight":"normal","titlePadding":23}},"y2":{"datum":433.9}}},
{"data":{"name":"candles"},"mark":{"type":"line","color":"#b4b4b4","strokeWidth":1.1,"clip":true},"encoding":{"x":{"field":"date","type":"ordinal"},"y":{"field":"low","type":"quantitative","scale":{"domain":[433.9,548.3],"zero":false,"nice":false}}}},
{"data":{"name":"candles"},"transform":[{"filter":"datum.date=='2026-03-26'"}],"mark":{"type":"rule","color":"#b4b4b4","strokeWidth":1.1,"clip":true},"encoding":{"x":{"field":"date","type":"ordinal"},"y":{"field":"low","type":"quantitative","scale":{"domain":[433.9,548.3],"zero":false,"nice":false}},"y2":{"datum":433.9}}},
{"data":{"values":[{"text":"forexsignale.trade","date":"2025-09-04","price":461.5}]},"mark":{"type":"text","font":"DejaVu Sans","fontWeight":"bold","fontSize":66.5,"color":"#000000","opacity":0.05,"baseline":"middle"},"encoding":{"x":{"field":"date","type":"ordinal"},"y":{"field":"price","type":"quantitative","scale":{"domain":[433.9,548.3],"zero":false,"nice":false}},"text":{"field":"text"}}},
{"data":{"values":[{"price":542.07,"kind":"high"},{"price":455.19,"kind":"low"}]},"mark":{"type":"rule","strokeDash":[8,4],"strokeWidth":1.6,"opacity":0.8},"encoding":{"y":{"field":"price","type":"quantitative","scale":{"domain":[433.9,548.3],"zero":false,"nice":false}},"stroke":{"condition":{"test":"datum.kind=='high'","value":"#27ae60"},"value":"#e63c3c"}}},
{"data":{"name":"candles"},"mark":{"type":"rule","color":"#c4c4c4","strokeWidth":1,"clip":true},"encoding":{"x":{"field":"date","type":"ordinal"},"y":{"field":"low","type":"quantitative","scale":{"domain":[433.9,548.3],"zero":false,"nice":false}},"y2":{"field":"high"}}},
{"data":{"name":"candles"},"mark":{"type":"bar","size":3,"stroke":"#e8e8e8","strokeWidth":0.8,"clip":true},"encoding":{"x":{"field":"date","type":"ordinal"},"y":{"field":"open","type":"quantitative","scale":{"domain":[433.9,548.3],"zero":false,"nice":false}},"y2":{"field":"close"},"fill":{"condition":{"test":"datum.close>=datum.open","value":"#4fd873"},"value":"#ff2f62"}}},
{"data":{"name":"sma"},"mark":{"type":"line","strokeWidth":1.2,"clip":true},"encoding":{"x":{"field":"date","type":"ordinal"},"y":{"field":"value","type":"quantitative","scale":{"domain":[433.9,548.3],"zero":false,"nice":false}},"color":{"field":"series","type":"nominal","scale":{"domain":["SMA 20","SMA 50"],"range":["#FFD700","#FF6B6B"]},"legend":{"title":null,"orient":"none","legendX":901,"legendY":36,"symbolType":"square","symbolSize":90,"symbolStrokeWidth":0,"labelFontSize":12,"labelFontWeight":"bold","rowPadding":3,"labelOffset":4,"encode":{"labels":{"update":{"fill":[{"test":"datum.value=='SMA 20'","value":"#FFD700"},{"value":"#FF6B6B"}]}},"symbols":{"update":{"fill":[{"test":"datum.value=='SMA 20'","value":"#FFD700"},{"value":"#FF6B6B"}],"opacity":{"value":1}}}}}}}},
{"data":{"name":"signals"},"mark":{"type":"point","filled":true,"size":34,"opacity":1},"encoding":{"x":{"field":"date","type":"ordinal"},"y":{"field":"price","type":"quantitative","scale":{"domain":[433.9,548.3],"zero":false,"nice":false}},"color":{"condition":{"test":"datum.signal=='S'","value":"#ff1744"},"value":"#00c853"}}},
{"data":{"name":"signals"},"mark":{"type":"rect","width":13,"height":15,"cornerRadius":1},"encoding":{"x":{"field":"date","type":"ordinal"},"y":{"datum":437.7,"scale":{"domain":[433.9,548.3],"zero":false,"nice":false}},"fill":{"condition":{"test":"datum.signal=='S'","value":"#ff1744"},"value":"#00c853"}}},
{"data":{"name":"signals"},"mark":{"type":"text","color":"#ffffff","font":"DejaVu Sans","fontWeight":"bold","fontSize":10,"baseline":"middle"},"encoding":{"x":{"field":"date","type":"ordinal"},"y":{"datum":437.7,"scale":{"domain":[433.9,548.3],"zero":false,"nice":false}},"text":{"field":"signal"}}},
{"data":{"name":"arrows"},"mark":{"type":"line","strokeWidth":2},"encoding":{"x":{"field":"date","type":"ordinal"},"y":{"field":"price","type":"quantitative","scale":{"domain":[433.9,548.3],"zero":false,"nice":false}},"detail":{"field":"kind"},"stroke":{"condition":{"test":"datum.kind=='high'","value":"#2ecc71"},"value":"#ff2b2b"}}},
{"data":{"values":[{"date":"2025-05-05","kind":"high","price":542.07},{"date":"2025-08-05","kind":"low","price":455.4}]},"mark":{"type":"point","shape":"M-1,0L1,-0.7L1,0.7Z","filled":true,"size":52,"opacity":1},"encoding":{"x":{"field":"date","type":"ordinal"},"y":{"field":"price","type":"quantitative","scale":{"domain":[433.9,548.3],"zero":false,"nice":false}},"fill":{"condition":{"test":"datum.kind=='high'","value":"#2ecc71"},"value":"#ff2b2b"}}},
{"data":{"values":[{"date":"2025-06-06","kind":"high","label":"$542.07 52W","price":545.65},{"date":"2025-09-05","kind":"low","label":"$455.19 52W","price":452.1}]},"mark":{"type":"rect","width":98,"height":18,"cornerRadius":2.5,"strokeWidth":1.6,"fill":"#0d1a12","opacity":0.95,"xOffset":{"expr":"datum.kind=='high'?-2.3:2.5"}},"encoding":{"x":{"field":"date","type":"ordinal"},"y":{"field":"price","type":"quantitative","scale":{"domain":[433.9,548.3],"zero":false,"nice":false}},"stroke":{"condition":{"test":"datum.kind=='high'","value":"#2ecc71"},"value":"#e52e2e"}}},
{"data":{"values":[{"date":"2025-06-06","kind":"high","label":"$542.07 52W","price":545.65},{"date":"2025-09-05","kind":"low","label":"$455.19 52W","price":452.1}]},"mark":{"type":"text","font":"DejaVu Sans","fontWeight":"bold","fontSize":12,"baseline":"middle","dx":{"expr":"datum.kind=='high'?-2.3:2.5"}},"encoding":{"x":{"field":"date","type":"ordinal"},"y":{"field":"price","type":"quantitative","scale":{"domain":[433.9,548.3],"zero":false,"nice":false}},"text":{"field":"label"},"color":{"condition":{"test":"datum.kind=='high'","value":"#2ecc71"},"value":"#e52e2e"}}}
]},
{"width":1041,"height":167,"view":{"fill":"#808080","stroke":"#9a9a9a"},"layer":[
{"data":{"name":"candles"},"mark":{"type":"rule","opacity":0},"encoding":{"x":{"field":"date","type":"ordinal","sort":"ascending"}}},
{"data":{"values":[{"text":"BRK.B","date":"2025-09-04","value":14.58}]},"mark":{"type":"text","font":"DejaVu Sans","fontWeight":"bold","fontSize":60,"color":"#000000","opacity":0.05,"baseline":"middle"},"encoding":{"x":{"field":"date","type":"ordinal","sort":"ascending"},"y":{"field":"value","type":"quantitative","scale":{"domain":[0.58,18.16],"zero":false,"nice":false}},"text":{"field":"text"}}},
{"data":{"values":[{"text":"Berkshire Hathaway Inc.","date":"2025-09-04","value":11.53}]},"mark":{"type":"text","font":"DejaVu Sans","fontSize":17.5,"color":"#000000","opacity":0.05,"baseline":"middle"},"encoding":{"x":{"field":"date","type":"ordinal","sort":"ascending"},"y":{"field":"value","type":"quantitative","scale":{"domain":[0.58,18.16],"zero":false,"nice":false}},"text":{"field":"text"}}},
{"data":{"name":"candles"},"mark":{"type":"bar","clip":true},"encoding":{"x":{"field":"date","type":"ordinal","sort":"ascending","title":null,"scale":{"type":"band","paddingInner":0,"paddingOuter":0,"range":[-3.23,1039.4]},"axis":{"values":["2025-04-01","2025-05-01","2025-06-02","2025-07-01","2025-08-01","2025-09-02","2025-10-01","2025-11-03","2025-12-01","2026-01-02","2026-02-02","2026-03-02"],"labelExpr":"utcmonth(toDate(datum.value))%2==1?utcFormat(toDate(datum.value),'%b %Y'):''","labelAngle":-45,"labelAlign":"center","labelBaseline":"middle","labelPadding":30,"labelFontSize":12.5,"labelColor":"#f0f0f0","labelOverlap":false,"tickColor":"#f0f0f0","tickSize":5,"domain":false,"grid":false}},"y":{"field":"volume","type":"quantitative","scale":{"domain":[0.58,18.16],"zero":false,"nice":false},"axis":{"orient":"right","values":[5,10,15],"grid":false,"domain":false,"tickColor":"#f0f0f0","tickSize":5,"labelColor":"#f0f0f0","labelFontSize":12.5,"labelPadding":4,"title":["Volumen","10⁶"],"titleAngle":270,"titleColor":"#c8c8c8","titleFontSize":12.5,"titleFontWeight":"normal","titlePadding":6,"titleLineHeight":19}},"color":{"condition":{"test":"datum.volDir=='up'","value":"#1c931c"},"value":"#ff0000"}}}
]}
]}
